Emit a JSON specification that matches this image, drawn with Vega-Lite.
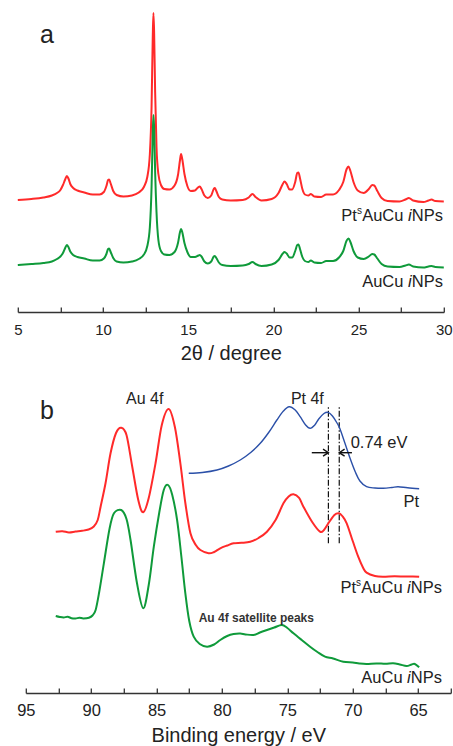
{
  "$schema": "https://vega.github.io/schema/vega-lite/v6.json",
  "padding": {"left": 12.8, "top": 0, "right": 0, "bottom": 0},
  "bounds": "flush",
  "spacing": 78,
  "config": {
    "view": {"stroke": null},
    "font": "Liberation Sans",
    "axis": {
      "domainColor": "#333", "domainWidth": 1.3, "tickColor": "#333", "tickWidth": 1.3,
      "tickSize": -5, "labelColor": "#222", "titleColor": "#222", "titleFontWeight": "normal",
      "grid": false, "labelPadding": 15, "titlePadding": 6
    },
    "text": {"color": "#222"}
  },
  "datasets": {
    "xrd_red": [
      {"x":5.0,"y":112},{"x":5.8,"y":113},{"x":6.5,"y":114.5},{"x":7.0,"y":116.5},{"x":7.3,"y":119},{"x":7.5,"y":122},{"x":7.65,"y":127},{"x":7.78,"y":132.5},{"x":7.88,"y":136},{"x":7.97,"y":133.5},{"x":8.08,"y":128},{"x":8.25,"y":124},{"x":8.5,"y":121.5},{"x":8.9,"y":119.5},{"x":9.4,"y":117.5},{"x":9.8,"y":117.5},{"x":10.05,"y":120},{"x":10.2,"y":126},{"x":10.3,"y":132},{"x":10.36,"y":132.5},{"x":10.45,"y":128.5},{"x":10.6,"y":121},{"x":10.8,"y":117},{"x":11.2,"y":115.5},{"x":11.7,"y":116.5},{"x":12.1,"y":119.5},{"x":12.4,"y":125},{"x":12.6,"y":135},{"x":12.75,"y":158},{"x":12.85,"y":205},{"x":12.92,"y":275},{"x":12.96,"y":299},{"x":13.0,"y":280},{"x":13.06,"y":220},{"x":13.14,"y":165},{"x":13.25,"y":138},{"x":13.4,"y":127},{"x":13.6,"y":123},{"x":13.9,"y":122.5},{"x":14.2,"y":126.5},{"x":14.4,"y":137},{"x":14.52,"y":152},{"x":14.58,"y":158},{"x":14.65,"y":153},{"x":14.78,"y":138},{"x":14.95,"y":126},{"x":15.15,"y":121},{"x":15.4,"y":121.5},{"x":15.6,"y":125},{"x":15.68,"y":125.5},{"x":15.78,"y":123},{"x":15.95,"y":116.5},{"x":16.15,"y":114},{"x":16.35,"y":116.5},{"x":16.5,"y":123},{"x":16.56,"y":124},{"x":16.65,"y":121},{"x":16.8,"y":115},{"x":17.0,"y":112.5},{"x":17.5,"y":111.5},{"x":18.2,"y":112},{"x":18.55,"y":114.5},{"x":18.77,"y":118},{"x":18.95,"y":115},{"x":19.3,"y":111.5},{"x":19.9,"y":113},{"x":20.3,"y":119},{"x":20.55,"y":128},{"x":20.65,"y":130.5},{"x":20.78,"y":128},{"x":20.95,"y":122.5},{"x":21.1,"y":122.5},{"x":21.28,"y":130},{"x":21.4,"y":139},{"x":21.47,"y":139.5},{"x":21.57,"y":133},{"x":21.7,"y":123},{"x":21.85,"y":117.5},{"x":22.05,"y":116.5},{"x":22.2,"y":118},{"x":22.4,"y":115.5},{"x":22.8,"y":115},{"x":23.1,"y":117.5},{"x":23.5,"y":117.5},{"x":23.85,"y":122},{"x":24.1,"y":130},{"x":24.3,"y":143},{"x":24.41,"y":145.5},{"x":24.52,"y":141},{"x":24.7,"y":130},{"x":24.95,"y":121.5},{"x":25.3,"y":119},{"x":25.6,"y":123},{"x":25.8,"y":127},{"x":25.92,"y":126.5},{"x":26.1,"y":121},{"x":26.35,"y":114},{"x":26.7,"y":111},{"x":27.4,"y":110.5},{"x":27.75,"y":112.5},{"x":27.95,"y":114},{"x":28.2,"y":111.5},{"x":28.8,"y":110},{"x":29.1,"y":111.5},{"x":29.28,"y":112.5},{"x":29.5,"y":111},{"x":30.0,"y":110.5}
    ],
    "xrd_green": [
      {"x":5.0,"y":47},{"x":5.8,"y":48},{"x":6.5,"y":49},{"x":7.0,"y":50.5},{"x":7.3,"y":53},{"x":7.5,"y":55.5},{"x":7.65,"y":59},{"x":7.78,"y":64},{"x":7.88,"y":67},{"x":7.97,"y":65},{"x":8.08,"y":60.5},{"x":8.25,"y":57},{"x":8.5,"y":55},{"x":8.9,"y":53.5},{"x":9.4,"y":51.5},{"x":9.8,"y":51.5},{"x":10.05,"y":53.5},{"x":10.2,"y":58},{"x":10.3,"y":63},{"x":10.36,"y":63.5},{"x":10.45,"y":60},{"x":10.6,"y":54},{"x":10.8,"y":50.5},{"x":11.2,"y":49.5},{"x":11.7,"y":50.5},{"x":12.1,"y":53},{"x":12.4,"y":57.5},{"x":12.6,"y":66},{"x":12.75,"y":85},{"x":12.85,"y":125},{"x":12.92,"y":178},{"x":12.96,"y":197},{"x":13.0,"y":185},{"x":13.06,"y":140},{"x":13.14,"y":100},{"x":13.25,"y":72},{"x":13.4,"y":61},{"x":13.6,"y":57.5},{"x":13.9,"y":57},{"x":14.2,"y":60},{"x":14.4,"y":69},{"x":14.52,"y":80},{"x":14.58,"y":83},{"x":14.65,"y":80},{"x":14.78,"y":69},{"x":14.95,"y":60},{"x":15.15,"y":55},{"x":15.4,"y":55},{"x":15.6,"y":56.5},{"x":15.68,"y":57},{"x":15.78,"y":55.5},{"x":15.95,"y":50.5},{"x":16.15,"y":48.5},{"x":16.35,"y":50.5},{"x":16.5,"y":55.5},{"x":16.56,"y":56},{"x":16.65,"y":54},{"x":16.8,"y":49.5},{"x":17.0,"y":47},{"x":17.5,"y":46},{"x":18.2,"y":46.5},{"x":18.55,"y":48},{"x":18.77,"y":50},{"x":18.95,"y":48},{"x":19.3,"y":46},{"x":19.9,"y":47.5},{"x":20.3,"y":52},{"x":20.55,"y":58.5},{"x":20.65,"y":60},{"x":20.78,"y":58.5},{"x":20.95,"y":54.5},{"x":21.1,"y":54.5},{"x":21.28,"y":61},{"x":21.4,"y":67},{"x":21.47,"y":67.5},{"x":21.57,"y":62.5},{"x":21.7,"y":55},{"x":21.85,"y":51},{"x":22.05,"y":50},{"x":22.2,"y":51.5},{"x":22.4,"y":49.5},{"x":22.8,"y":49},{"x":23.1,"y":51},{"x":23.5,"y":51},{"x":23.85,"y":54.5},{"x":24.1,"y":61},{"x":24.3,"y":71.5},{"x":24.41,"y":73.5},{"x":24.52,"y":70},{"x":24.7,"y":61},{"x":24.95,"y":54.5},{"x":25.3,"y":53},{"x":25.6,"y":55.5},{"x":25.8,"y":58},{"x":25.92,"y":57.5},{"x":26.1,"y":53.5},{"x":26.35,"y":48},{"x":26.7,"y":45.5},{"x":27.4,"y":45},{"x":27.75,"y":46.5},{"x":27.95,"y":47.5},{"x":28.2,"y":45.5},{"x":28.8,"y":44.5},{"x":29.1,"y":45.5},{"x":29.28,"y":46},{"x":29.5,"y":45},{"x":30.0,"y":44.5}
    ],
    "xps_red": [
      {"x":92.71,"y":161.3},{"x":92.2,"y":161.8},{"x":91.7,"y":160.6},{"x":91.2,"y":161.5},{"x":90.7,"y":162.2},{"x":90.2,"y":163.5},{"x":89.8,"y":166.5},{"x":89.5,"y":173},{"x":89.28,"y":186.3},{"x":88.9,"y":210},{"x":88.52,"y":239.7},{"x":88.1,"y":260},{"x":87.7,"y":265.3},{"x":87.3,"y":258},{"x":86.86,"y":226.3},{"x":86.4,"y":193},{"x":86.02,"y":180.7},{"x":85.6,"y":195},{"x":85.08,"y":229.7},{"x":84.6,"y":268},{"x":84.07,"y":284},{"x":83.6,"y":266},{"x":83.18,"y":229.7},{"x":82.8,"y":190},{"x":82.41,"y":159.7},{"x":82.0,"y":148},{"x":81.65,"y":143},{"x":81.02,"y":139.7},{"x":80.6,"y":141},{"x":80.13,"y":144.7},{"x":79.6,"y":147.5},{"x":79.11,"y":149.7},{"x":78.5,"y":150.2},{"x":77.84,"y":151.3},{"x":77.2,"y":155},{"x":76.56,"y":161.3},{"x":75.9,"y":173},{"x":75.3,"y":189.7},{"x":74.9,"y":196.5},{"x":74.53,"y":198.7},{"x":74.1,"y":195},{"x":73.77,"y":186.3},{"x":73.1,"y":171},{"x":72.5,"y":161.3},{"x":72.2,"y":163},{"x":71.86,"y":169.7},{"x":71.4,"y":178},{"x":71.05,"y":179.7},{"x":70.8,"y":177},{"x":70.46,"y":169.7},{"x":70.0,"y":152},{"x":69.58,"y":136.3},{"x":69.2,"y":125},{"x":68.94,"y":120.3},{"x":68.3,"y":117},{"x":67.67,"y":116.3},{"x":66.8,"y":116.8},{"x":66.0,"y":116.4},{"x":65.4,"y":116.6},{"x":64.92,"y":116.3}
    ],
    "xps_blue": [
      {"x":82.54,"y":219.7},{"x":81.5,"y":220.5},{"x":80.38,"y":223},{"x":79.5,"y":227},{"x":78.6,"y":233},{"x":77.8,"y":240.5},{"x":77.07,"y":249.7},{"x":76.4,"y":261},{"x":75.8,"y":273},{"x":75.3,"y":282},{"x":74.86,"y":286.3},{"x":74.4,"y":283},{"x":74.02,"y":276.3},{"x":73.6,"y":268},{"x":73.26,"y":264.7},{"x":72.9,"y":268},{"x":72.6,"y":274},{"x":72.2,"y":279.5},{"x":71.88,"y":280.7},{"x":71.55,"y":277},{"x":71.2,"y":270},{"x":70.97,"y":264},{"x":70.6,"y":250},{"x":70.21,"y":235},{"x":69.8,"y":221},{"x":69.45,"y":212},{"x":68.94,"y":206.3},{"x":68.3,"y":205},{"x":67.67,"y":204.7},{"x":67.0,"y":205.5},{"x":66.53,"y":206.3},{"x":65.8,"y":205.2},{"x":64.92,"y":204.3}
    ],
    "xps_green": [
      {"x":92.71,"y":77},{"x":92.4,"y":76},{"x":92.1,"y":75.5},{"x":91.8,"y":76.2},{"x":91.5,"y":74.8},{"x":91.2,"y":74.5},{"x":90.9,"y":75.2},{"x":90.6,"y":74.6},{"x":90.17,"y":75.3},{"x":89.9,"y":77.5},{"x":89.66,"y":83},{"x":89.4,"y":100},{"x":89.03,"y":129.7},{"x":88.6,"y":164},{"x":88.26,"y":179.7},{"x":87.7,"y":183},{"x":87.3,"y":174},{"x":86.99,"y":153},{"x":86.5,"y":110},{"x":86.02,"y":84.7},{"x":85.6,"y":108},{"x":85.21,"y":146.3},{"x":84.8,"y":180},{"x":84.45,"y":203},{"x":84.12,"y":208},{"x":83.8,"y":198},{"x":83.43,"y":173},{"x":83.1,"y":136},{"x":82.8,"y":99.7},{"x":82.5,"y":72},{"x":82.16,"y":56.3},{"x":81.7,"y":49},{"x":81.14,"y":46.3},{"x":80.6,"y":48.5},{"x":80.13,"y":53},{"x":79.6,"y":57},{"x":79.11,"y":59},{"x":78.6,"y":59.5},{"x":78.2,"y":58.6},{"x":77.59,"y":58},{"x":77.1,"y":60.5},{"x":76.56,"y":63},{"x":76.0,"y":65.5},{"x":75.42,"y":68},{"x":75.0,"y":65},{"x":74.53,"y":59.7},{"x":73.9,"y":53},{"x":73.26,"y":46.3},{"x":72.7,"y":41},{"x":72.12,"y":36.3},{"x":71.5,"y":34.5},{"x":70.72,"y":31.3},{"x":70.0,"y":30.5},{"x":69.5,"y":29.5},{"x":68.94,"y":29},{"x":68.2,"y":29.6},{"x":67.5,"y":29.2},{"x":66.91,"y":29.7},{"x":66.4,"y":28.5},{"x":65.88,"y":27},{"x":65.5,"y":28.5},{"x":65.25,"y":29},{"x":64.92,"y":25.7}
    ],
    "vlines": [{"x":71.86,"y":149.7,"y2":286.3},{"x":71.03,"y":149.7,"y2":286.3}],
    "arrows": [
      {"seg":"L1","ord":1,"x":73.13,"y":240.3},{"seg":"L1","ord":2,"x":71.86,"y":240.3},
      {"seg":"L2","ord":1,"x":72.27,"y":243.8},{"seg":"L2","ord":2,"x":71.86,"y":240.3},{"seg":"L2","ord":3,"x":72.27,"y":236.8},
      {"seg":"R1","ord":1,"x":70.06,"y":240.3},{"seg":"R1","ord":2,"x":71.03,"y":240.3},
      {"seg":"R2","ord":1,"x":70.62,"y":243.8},{"seg":"R2","ord":2,"x":71.03,"y":240.3},{"seg":"R2","ord":3,"x":70.62,"y":236.8}
    ],
    "a_main": [{"x":23.98,"y":91.3,"text":"Pt"},{"x":25.21,"y":91.3,"text":"AuCu"},{"x":28.12,"y":91.3,"text":"NPs"},{"x":25.21,"y":24.7,"text":"AuCu"},{"x":28.12,"y":24.7,"text":"NPs"}],
    "a_ital": [{"x":27.9,"y":91.3,"text":"i"},{"x":27.9,"y":24.7,"text":"i"}],
    "a_sup": [{"x":24.9,"y":98.5,"text":"s"}],
    "a_letter": [{"x":6.31,"y":269.3,"text":"a"}],
    "b_main": [{"x":70.93,"y":99.7,"text":"Pt"},{"x":69.34,"y":99.7,"text":"AuCu"},{"x":65.56,"y":99.7,"text":"NPs"},{"x":69.34,"y":10.3,"text":"AuCu"},{"x":65.56,"y":10.3,"text":"NPs"},{"x":70.16,"y":244.7,"text":"0.74 eV"}],
    "b_ital": [{"x":65.84,"y":99.7,"text":"i"},{"x":65.84,"y":10.3,"text":"i"}],
    "b_sup": [{"x":69.74,"y":106.9,"text":"s"}],
    "b_center": [{"x":85.91,"y":289,"text":"Au 4f"},{"x":73.47,"y":289,"text":"Pt 4f"}],
    "b_right": [{"x":64.92,"y":186.3,"text":"Pt"}],
    "b_sat": [{"x":81.78,"y":70.7,"text":"Au 4f satellite peaks"}],
    "b_letter": [{"x":93.91,"y":273.7,"text":"b"}]
  },
  "vconcat": [
    {
      "width": 433, "height": 312,
      "encoding": {
        "x": {"field": "x", "type": "quantitative",
          "scale": {"domain": [5, 30], "range": [0, 426], "nice": false, "zero": false},
          "axis": {"title": "2θ / degree", "values": [5,7.5,10,12.5,15,17.5,20,22.5,25,27.5,30],
            "labelExpr": "datum.value % 5 === 0 ? datum.label : ''", "labelFontSize": 15, "titleFontSize": 20, "labelFlush": false}},
        "y": {"field": "y", "type": "quantitative", "scale": {"domain": [0, 312], "nice": false, "zero": false}, "axis": null}
      },
      "layer": [
        {"data": {"name": "xrd_red"}, "mark": {"type": "line", "color": "#ff2a2a", "strokeWidth": 2, "interpolate": "monotone"}},
        {"data": {"name": "xrd_green"}, "mark": {"type": "line", "color": "#0f9a3a", "strokeWidth": 2, "interpolate": "monotone"}},
        {"data": {"name": "a_main"}, "mark": {"type": "text", "align": "left", "baseline": "alphabetic", "fontSize": 16.5}, "encoding": {"text": {"field": "text"}}},
        {"data": {"name": "a_ital"}, "mark": {"type": "text", "align": "left", "baseline": "alphabetic", "fontSize": 16.5, "fontStyle": "italic"}, "encoding": {"text": {"field": "text"}}},
        {"data": {"name": "a_sup"}, "mark": {"type": "text", "align": "left", "baseline": "alphabetic", "fontSize": 10}, "encoding": {"text": {"field": "text"}}},
        {"data": {"name": "a_letter"}, "mark": {"type": "text", "align": "left", "baseline": "alphabetic", "fontSize": 25}, "encoding": {"text": {"field": "text"}}}
      ]
    },
    {
      "width": 433, "height": 303,
      "encoding": {
        "x": {"field": "x", "type": "quantitative",
          "scale": {"domain": [95, 62.5], "range": [8, 433], "nice": false, "zero": false},
          "axis": {"title": "Binding energy / eV", "values": [95,92.5,90,87.5,85,82.5,80,77.5,75,72.5,70,67.5,65,62.5],
            "labelExpr": "datum.value % 5 === 0 ? datum.label : ''", "labelFontSize": 16.5, "titleFontSize": 20, "labelFlush": false}},
        "y": {"field": "y", "type": "quantitative", "scale": {"domain": [0, 303], "nice": false, "zero": false}, "axis": null}
      },
      "layer": [
        {"data": {"name": "vlines"}, "mark": {"type": "rule", "color": "#111", "strokeWidth": 1.2, "strokeDash": [6, 2, 1.5, 2]}, "encoding": {"y2": {"field": "y2"}}},
        {"data": {"name": "xps_red"}, "mark": {"type": "line", "color": "#ff2a2a", "strokeWidth": 2, "interpolate": "cardinal"}},
        {"data": {"name": "xps_green"}, "mark": {"type": "line", "color": "#0f9a3a", "strokeWidth": 2, "interpolate": "cardinal"}},
        {"data": {"name": "xps_blue"}, "mark": {"type": "line", "color": "#2b50a8", "strokeWidth": 1.4, "interpolate": "cardinal"}},
        {"data": {"name": "arrows"}, "mark": {"type": "line", "color": "#111", "strokeWidth": 1.4}, "encoding": {"detail": {"field": "seg"}, "order": {"field": "ord"}}},
        {"data": {"name": "b_main"}, "mark": {"type": "text", "align": "left", "baseline": "alphabetic", "fontSize": 16.5}, "encoding": {"text": {"field": "text"}}},
        {"data": {"name": "b_ital"}, "mark": {"type": "text", "align": "left", "baseline": "alphabetic", "fontSize": 16.5, "fontStyle": "italic"}, "encoding": {"text": {"field": "text"}}},
        {"data": {"name": "b_sup"}, "mark": {"type": "text", "align": "left", "baseline": "alphabetic", "fontSize": 10}, "encoding": {"text": {"field": "text"}}},
        {"data": {"name": "b_center"}, "mark": {"type": "text", "align": "center", "baseline": "alphabetic", "fontSize": 16}, "encoding": {"text": {"field": "text"}}},
        {"data": {"name": "b_right"}, "mark": {"type": "text", "align": "right", "baseline": "alphabetic", "fontSize": 16.5}, "encoding": {"text": {"field": "text"}}},
        {"data": {"name": "b_sat"}, "mark": {"type": "text", "align": "left", "baseline": "alphabetic", "fontSize": 12, "fontWeight": "bold", "color": "#333"}, "encoding": {"text": {"field": "text"}}},
        {"data": {"name": "b_letter"}, "mark": {"type": "text", "align": "left", "baseline": "alphabetic", "fontSize": 25}, "encoding": {"text": {"field": "text"}}}
      ]
    }
  ]
}
